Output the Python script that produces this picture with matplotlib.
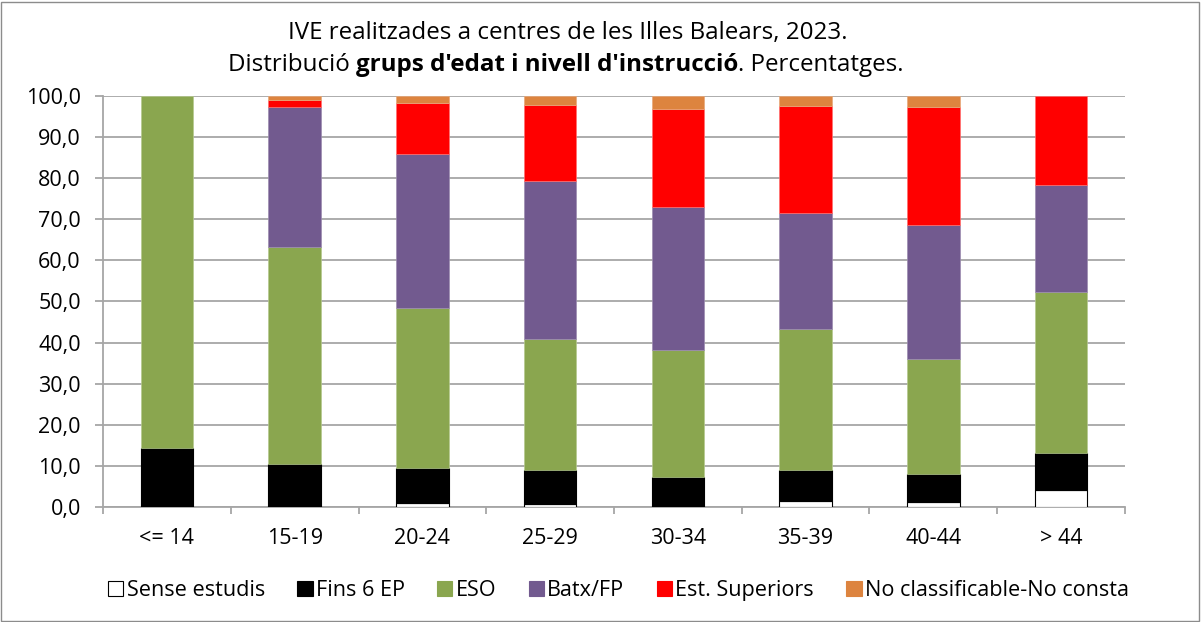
import matplotlib
matplotlib.use('Agg')
import matplotlib.pyplot as plt
from matplotlib.patches import Rectangle, Patch
from matplotlib.ticker import FuncFormatter, FixedLocator
import numpy as np

plt.rcParams['font.family'] = ['Open Sans', 'Noto Sans', 'DejaVu Sans']

# grups d'edat
categories = ['<= 14', '15-19', '20-24', '25-29', '30-34', '35-39', '40-44', '> 44']

# percentatges per nivell d'instrucció
sense_estudis = [0.0, 0.3, 1.0, 0.7, 0.2, 1.5, 1.1, 4.1]
fins_6_ep = [14.3, 10.2, 8.5, 8.4, 7.0, 7.5, 6.9, 9.0]
eso = [85.7, 52.8, 38.8, 31.7, 31.1, 34.3, 28.1, 39.1]
batx_fp = [0.0, 33.9, 37.5, 38.4, 34.6, 28.3, 32.6, 26.2]
est_superiors = [0.0, 1.7, 12.6, 18.6, 24.0, 26.0, 28.5, 21.6]
no_classificable = [0.0, 1.1, 1.6, 2.2, 3.1, 2.4, 2.8, 0.0]

series = [
    ('Sense estudis', sense_estudis, 'white', 'black'),
    ('Fins 6 EP', fins_6_ep, 'black', 'black'),
    ('ESO', eso, '#8aa64f', '#b5c98f'),
    ('Batx/FP', batx_fp, '#725a8f', '#9c8cb0'),
    ('Est. Superiors', est_superiors, '#ff0000', '#ff7070'),
    ('No classificable-No consta', no_classificable, '#dd843f', '#e8a87a'),
]

fig = plt.figure(figsize=(12.01, 6.22), dpi=100)
ax = fig.add_axes([0.0858, 0.1849, 0.9367 - 0.0858, 0.8457 - 0.1849])

x = np.arange(len(categories))
bottom = np.zeros(len(categories))
handles = []
for name, vals, color, edge in series:
    vals = np.array(vals)
    lw = 0.8 if color in ('white', 'black') else 0.5
    bars = ax.bar(x, vals, 0.41, bottom=bottom, color=color, edgecolor=edge,
                  linewidth=lw, zorder=3)
    for b, v in zip(bars, vals):
        if v == 0:
            b.set_visible(False)
    bottom += vals
    handles.append(Patch(facecolor=color, edgecolor='black' if color == 'white' else color, linewidth=0.8))

ax.set_xlim(-0.5, len(categories) - 0.5)
ax.set_ylim(0, 100)
ax.set_yticks(np.arange(0, 101, 10))
ax.yaxis.set_major_formatter(FuncFormatter(lambda v, p: f'{v:.1f}'.replace('.', ',')))
ax.grid(axis='y', color='#a6a6a6', linewidth=1.3, zorder=0)

ax.set_xticks(x)
ax.set_xticklabels(categories)
ax.xaxis.set_minor_locator(FixedLocator(np.arange(-0.5, len(categories), 1)))
ax.tick_params(axis='x', which='major', length=0, pad=15, labelsize=15.5)
ax.tick_params(axis='x', which='minor', length=5, color='#a6a6a6', width=1.3)
ax.tick_params(axis='y', length=6, color='#a6a6a6', width=1.3, labelsize=15.5, pad=10)

for s in ['top', 'right']:
    ax.spines[s].set_visible(False)
ax.spines['left'].set_color('#a6a6a6')
ax.spines['bottom'].set_color('#a6a6a6')
ax.spines['left'].set_linewidth(1.3)
ax.spines['bottom'].set_linewidth(1.3)

# title
fig.text(0.473, 1 - 38.5 / 622, "IVE realitzades a centres de les Illes Balears, 2023.",
         ha='center', va='baseline', fontsize=17.4)
t1 = fig.text(0.1898, 1 - 71 / 622, "Distribució ", ha='left', va='baseline', fontsize=17.4)
t2 = ax.annotate("grups d'edat i nivell d'instrucció", xy=(1, 0), xycoords=t1,
                 va='bottom', ha='left', fontsize=17.4, fontweight='bold')
ax.annotate(". Percentatges.", xy=(1, 0), xycoords=t2, va='bottom', ha='left', fontsize=17.4)

fig.legend(handles, [s[0] for s in series], loc='center', bbox_to_anchor=(0.515, 0.051),
           ncol=6, frameon=False, fontsize=15.6, handlelength=0.7, handleheight=0.7,
           handletextpad=0.15, columnspacing=1.5)

fig.patches.append(Rectangle((0.001, 0.002), 0.997, 0.995, transform=fig.transFigure,
                             fill=False, edgecolor='#8c8c8c', linewidth=1))

fig.savefig('out.png', dpi=100)
